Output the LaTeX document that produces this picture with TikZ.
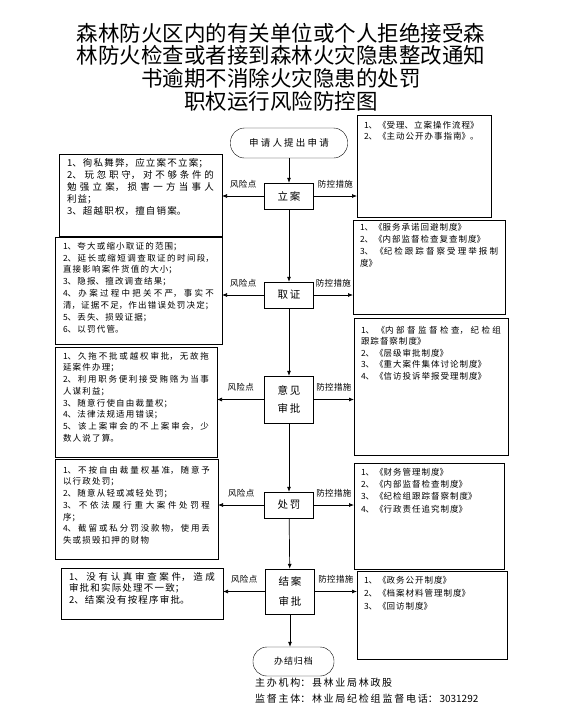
\documentclass[tikz,border=0pt]{standalone}
\usepackage{fontspec}
\newfontfamily\cjk{Noto Sans CJK SC}
\usetikzlibrary{arrows.meta}
\XeTeXlinebreaklocale "zh"
\XeTeXlinebreakskip=0pt plus 1pt
\hbadness=10000
\hfuzz=4pt
\newcommand{\Cjk}[3]{\cjk\fontsize{#1}{#2}\selectfont\XeTeXlinebreakskip=#3pt plus 6pt\relax}
\newcommand{\Note}[4]{\parbox[t][#2pt][t]{#1pt}{\vspace*{#3pt}#4}}

\begin{document}
\begin{tikzpicture}[x=1pt,y=-1pt]
		\tikzstyle{Title}	= [align=center, inner sep=0pt, font={\Cjk{21.5}{22.7}{0}}]
		\tikzstyle{Term}	= [draw, rounded corners=14pt, minimum height=30pt, inner sep=2pt, align=flush center]
		\tikzstyle{Step}	= [draw, align=flush center, text width=44pt, minimum width=49pt, minimum height=26pt, inner sep=2pt, font={\Cjk{10.5}{18}{1.8}}]
		\tikzstyle{RiskBox}	= [draw, anchor=north west, inner xsep=8pt, inner ysep=0pt, outer sep=0pt]
		\tikzstyle{CtrlBox}	= [RiskBox, inner xsep=7pt]
		\tikzstyle{Lbl}		= [above=7pt, inner sep=1pt, align=flush center, text width=44pt, font={\Cjk{8.5}{10}{0.4}}]
		\tikzstyle{Foot}	= [anchor=west, inner sep=0pt, align=flush left, text width=300pt, font={\Cjk{10}{12}{1.7}}]
		\tikzstyle{Flow}	= [-{Latex[length=5pt,width=4pt]}, line width=0.7pt]

		\useasboundingbox (0,0) rectangle (574,710);

		\node (tt) at (281,67) [Title] {森林防火区内的有关单位或个人拒绝接受森\\林防火检查或者接到森林火灾隐患整改通知\\书逾期不消除火灾隐患的处罚\\职权运行风险防控图};

		\node (s0) at (289,143) [Term, text width=100pt, minimum width=117pt, font={\Cjk{9.5}{12}{2.2}}] {申请人提出申请};
		\node (la) at (289,196) [Step] {立案};
		\node (qz) at (289,295) [Step] {取证};
		\node (yj) at (289,399.5) [Step, minimum height=47pt] {意见\\审批};
		\node (cf) at (289,505) [Step] {处罚};
		\node (ja) at (290,591.5) [Step, minimum height=45pt, font={\Cjk{10.5}{20}{1.8}}] {结案\\审批};
		\node (gd) at (293.5,661.5) [Term, text width=64pt, minimum width=81pt, minimum height=29pt, font={\Cjk{9}{12}{1}}] {办结归档};

		\node (fx1) at (59,154) [RiskBox, font={\Cjk{9.5}{12}{1.2}}] {\Note{147}{82}{4.5}{1、徇私舞弊，应立案不立案；\par
			2、玩忽职守，对不够条件的\linebreak 勉强立案，损害一方当事人\linebreak 利益；\par
			3、超越职权，擅自销案。}};
		\node (fx2) at (55,237) [RiskBox, font={\Cjk{8.5}{11.9}{1.2}}] {\Note{151}{107}{5}{1、夸大或缩小取证的范围；\par
			2、延长或缩短调查取证的时间段，\linebreak 直接影响案件货值的大小；\par
			3、隐报、擅改调查结果；\par
			4、办案过程中把关不严，事实不\linebreak 清，证据不足，作出错误处罚决定；\par
			5、丢失、损毁证据；\par
			6、以罚代管。}};
		\node (fx3) at (55,347) [RiskBox, font={\Cjk{8.5}{11.7}{1.2}}] {\Note{146}{110}{5}{1、久拖不批或越权审批，无故拖\linebreak 延案件办理；\par
			2、利用职务便利接受贿赂为当事\linebreak 人谋利益；\par
			3、随意行使自由裁量权；\par
			4、法律法规适用错误；\par
			5、该上案审会的不上案审会，少\linebreak 数人说了算。}};
		\node (fx4) at (55,459) [RiskBox, font={\Cjk{8.5}{11.7}{1.2}}] {\Note{147}{100}{7}{1、不按自由裁量权基准，随意予\linebreak 以行政处罚；\par
			2、随意从轻或减轻处罚；\par
			3、不依法履行重大案件处罚程\linebreak 序；\par
			4、截留或私分罚没款物，使用丢\linebreak 失或损毁扣押的财物}};
		\node (fx5) at (61,568) [RiskBox, font={\Cjk{9.5}{11.7}{1.2}}] {\Note{146}{51}{4}{1、没有认真审查案件，造成\linebreak 审批和实际处理不一致；\par
			2、结案没有按程序审批。}};

		\node (cs1) at (357,115) [CtrlBox, font={\Cjk{8.5}{11.7}{1}}] {\Note{120}{102}{6}{1、《受理、立案操作流程》\par
			2、《主动公开办事指南》。}};
		\node (cs2) at (353,220) [CtrlBox, font={\Cjk{8.5}{12.2}{1}}] {\Note{138}{94}{3}{1、《服务承诺回避制度》\par
			2、《内部监督检查复查制度》\par
			3、《纪检跟踪督察受理举报制\linebreak 度》}};
		\node (cs3) at (354,318) [CtrlBox, font={\Cjk{8.5}{11.5}{1}}] {\Note{140}{137}{8}{1、《内部督监督检查，纪检组\linebreak 跟踪督察制度》\par
			2、《层级审批制度》\par
			3、《重大案件集体讨论制度》\par
			4、《信访投诉举报受理制度》}};
		\node (cs4) at (354,463) [CtrlBox, font={\Cjk{8.5}{12.3}{1}}] {\Note{136}{106}{5}{1、《财务管理制度》\par
			2、《内部监督检查制度》\par
			3、《纪检组跟踪督察制度》\par
			4、《行政责任追究制度》}};
		\node (cs5) at (357,571) [CtrlBox, font={\Cjk{8.5}{13}{1}}] {\Note{136}{88}{5}{1、《政务公开制度》\par
			2、《档案材料管理制度》\par
			3、《回访制度》}};

		\node (zb) at (255,683) [Foot] {主办机构：县林业局林政股};
		\node (jd) at (255,699) [Foot] {监督主体：林业局纪检组 监督电话：3031292};

		\draw [-] (s0) to (la) [Flow];
		\draw [-] (la) to (qz) [Flow];
		\draw [-] (qz) to (yj) [Flow];
		\draw [-] (yj) to (cf) [Flow];
		\draw [-] (cf) to (ja) [Flow];
		\draw [-] (ja.south) to (ja.south |- gd.north) [Flow];

		\draw [-] (la.west) to node [Lbl] (fd1) {风险点} (la.west -| fx1.east) [Flow];
		\draw [-] (qz.west) to node [Lbl] (fd2) {风险点} (qz.west -| fx2.east) [Flow];
		\draw [-] (yj.west) to node [Lbl] (fd3) {风险点} (yj.west -| fx3.east) [Flow];
		\draw [-] (cf.west) to node [Lbl] (fd4) {风险点} (cf.west -| fx4.east) [Flow];
		\draw [-] (ja.west) to node [Lbl] (fd5) {风险点} (ja.west -| fx5.east) [Flow];

		\draw [-] (la.east) to node [Lbl] (ks1) {防控措施} (la.east -| cs1.west) [Flow];
		\draw [-] (qz.east) to node [Lbl] (ks2) {防控措施} (qz.east -| cs2.west) [Flow];
		\draw [-] (yj.east) to node [Lbl] (ks3) {防控措施} (yj.east -| cs3.west) [Flow];
		\draw [-] (cf.east) to node [Lbl] (ks4) {防控措施} (cf.east -| cs4.west) [Flow];
		\draw [-] (ja.east) to node [Lbl] (ks5) {防控措施} (ja.east -| cs5.west) [Flow];
	\end{tikzpicture}
\end{document}
